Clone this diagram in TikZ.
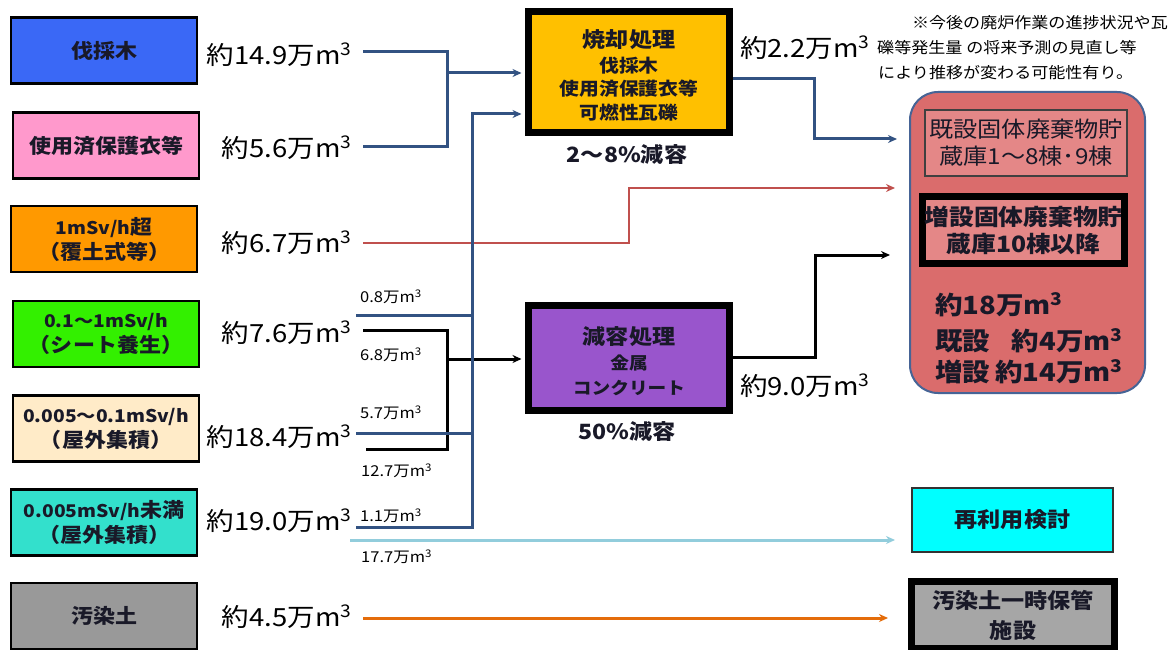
\documentclass[tikz,border=0pt]{standalone}
\usepackage{fontspec}
\setmainfont{Noto Sans CJK JP}[FakeStretch=1.1]
\usetikzlibrary{arrows.meta}
\definecolor{cBlue}{RGB}{58,104,246}
\definecolor{cPink}{RGB}{255,153,204}
\definecolor{cOrange}{RGB}{255,153,0}
\definecolor{cGreen}{RGB}{51,240,0}
\definecolor{cBeige}{RGB}{255,235,200}
\definecolor{cTeal}{RGB}{51,224,204}
\definecolor{cGray}{RGB}{153,153,153}
\definecolor{cGold}{RGB}{255,192,0}
\definecolor{cPurple}{RGB}{153,85,204}
\definecolor{cSalmon}{RGB}{218,108,108}
\definecolor{cSalmonL}{RGB}{228,135,135}
\definecolor{cCyan}{RGB}{0,255,255}
\definecolor{cGrayB}{RGB}{166,166,166}
\definecolor{cLine}{RGB}{50,82,130}
\definecolor{cRed}{RGB}{192,80,77}
\definecolor{cLight}{RGB}{146,205,220}
\definecolor{cOrL}{RGB}{228,108,10}
\definecolor{cEdge}{RGB}{70,100,150}
\definecolor{cText}{RGB}{25,25,40}
\newcommand\fs[2]{\fontsize{#1}{#2}\selectfont}
\newcommand\lat[1]{{\fs{17.5}{25}#1}}
\begin{document}
\begin{tikzpicture}[x=1pt,y=-1pt,
  lbox/.style={draw=black, line width=2.5pt, minimum width=186pt, minimum height=66pt, inner sep=0pt, align=center, text=cText, font=\fs{20}{25}\bfseries},
  val/.style={anchor=east, inner sep=0pt, font=\fs{25}{30}},
  small/.style={anchor=west, inner sep=0pt, font=\fs{15}{18}},
  procbox/.style={draw=black, line width=7pt, minimum width=201pt, inner sep=0pt},
  txt/.style={inner sep=0pt, align=center, text=cText},
  bl/.style={draw=cLine, line width=3pt},
  kl/.style={draw=black, line width=3pt},
  rl/.style={draw=cRed, line width=2.5pt},
  lbl/.style={draw=cLight, line width=3pt},
  ol/.style={draw=cOrL, line width=3pt},
  tip/.style={-{Stealth[length=9pt,width=8pt]}}
]
\useasboundingbox (0,0) rectangle (1170,650);
\fill[white] (0,0) rectangle (1170,650);

% left boxes
\node[lbox, fill=cBlue] (b1) at (104,50.5) {伐採木};
\node[lbox, fill=cPink] (b2) at (106,145.5) {使用済保護衣等};
\node[lbox, fill=cOrange] (b3) at (104,239) {\lat{1mSv/h}超\\（覆土式等）};
\node[lbox, fill=cGreen] (b4) at (106,334) {\lat{0.1～1mSv/h}\\（シート養生）};
\node[lbox, fill=cBeige] (b5) at (106,428.5) {\lat{0.005～0.1mSv/h}\\（屋外集積）};
\node[lbox, fill=cTeal] (b6) at (104,522.5) {\lat{0.005mSv/h}未満\\（屋外集積）};
\node[lbox, fill=cGray] (b7) at (104,616) {汚染土};

% value labels
\node[val] (v1) at (352,55) {約14.9万m\textsuperscript{3}};
\node[val] (v2) at (352,148) {約5.6万m\textsuperscript{3}};
\node[val] (v3) at (352,243) {約6.7万m\textsuperscript{3}};
\node[val] (v4) at (352,333) {約7.6万m\textsuperscript{3}};
\node[val] (v5) at (352,437) {約18.4万m\textsuperscript{3}};
\node[val] (v6) at (352,521) {約19.0万m\textsuperscript{3}};
\node[val] (v7) at (352,617) {約4.5万m\textsuperscript{3}};

% small labels
\node[small] (a1) at (360,297) {0.8万m\textsuperscript{3}};
\node[small] (a2) at (360,355) {6.8万m\textsuperscript{3}};
\node[small] (a3) at (360,413) {5.7万m\textsuperscript{3}};
\node[small] (a4) at (361,471) {12.7万m\textsuperscript{3}};
\node[small] (a5) at (360,516) {1.1万m\textsuperscript{3}};
\node[small] (a6) at (361,557) {17.7万m\textsuperscript{3}};

% process boxes
\node[procbox, fill=cGold, minimum height=121pt] (inc) at (629,72) {};
\node[txt, font=\fs{21}{25}\bfseries] (inc1) at (629,40) {焼却処理};
\node[txt, font=\fs{18}{22}\bfseries] (inc2) at (629,66) {伐採木};
\node[txt, font=\fs{18}{22}\bfseries] (inc3) at (629,89) {使用済保護衣等};
\node[txt, font=\fs{18}{22}\bfseries] (inc4) at (629,113) {可燃性瓦礫};
\node[txt, font=\fs{21}{25}\bfseries] (incR) at (627,155) {2～8\%減容};

\node[procbox, fill=cPurple, minimum height=105pt] (vol) at (629,358) {};
\node[txt, font=\fs{21}{25}\bfseries] (vol1) at (629,337) {減容処理};
\node[txt, font=\fs{17}{21}\bfseries] (vol2) at (629,363) {金属};
\node[txt, font=\fs{17}{21}\bfseries] (vol3) at (629,388) {コンクリート};
\node[txt, font=\fs{21}{25}\bfseries] (volR) at (627,432) {50\%減容};

\node[val, anchor=west] (o1) at (740,48) {約2.2万m\textsuperscript{3}};
\node[val, anchor=west] (o2) at (740,386) {約9.0万m\textsuperscript{3}};

% note
\node[inner sep=0pt, anchor=east, font=\fs{15.5}{18}] (n1) at (1168,23) {※今後の廃炉作業の進捗状況や瓦};
\node[inner sep=0pt, anchor=west, font=\fs{15.5}{18}] (n2) at (877,48) {礫等発生量 の将来予測の見直し等};
\node[inner sep=0pt, anchor=west, font=\fs{15.5}{18}] (n3) at (878,73) {により推移が変わる可能性有り。};

% storage
\node[draw=cEdge, line width=2pt, fill=cSalmon, rounded corners=28pt, minimum width=235pt, minimum height=301pt, inner sep=0pt] (st) at (1027.5,242.5) {};
\node[draw=black!75, line width=1.2pt, fill=cSalmonL, minimum width=202pt, minimum height=66pt, inner sep=0pt, align=center, text=cText, font=\fs{22}{27}] (s1) at (1026,143) {既設固体廃棄物貯\\蔵庫1～8棟･9棟};
\node[draw=black, line width=7pt, fill=cSalmonL, minimum width=202pt, minimum height=67pt, inner sep=0pt, align=center, text=cText, font=\fs{22.5}{27}\bfseries] (s2) at (1023.5,230) {増設固体廃棄物貯\\蔵庫10棟以降};
\node[inner sep=0pt, anchor=west, text=cText, font=\fs{25}{30}\bfseries] (s3) at (935,305) {約18万m\textsuperscript{3}};
\node[inner sep=0pt, anchor=west, text=cText, font=\fs{25}{30}\bfseries] (s4) at (935,341) {既設};
\node[inner sep=0pt, anchor=east, text=cText, font=\fs{25}{30}\bfseries] (s5) at (1123,341) {約4万m\textsuperscript{3}};
\node[inner sep=0pt, anchor=west, text=cText, font=\fs{25}{30}\bfseries] (s6) at (935,372) {増設};
\node[inner sep=0pt, anchor=east, text=cText, font=\fs{25}{30}\bfseries] (s7) at (1123,372) {約14万m\textsuperscript{3}};

% destination boxes
\node[draw=black!80, line width=2pt, fill=cCyan, minimum width=201pt, minimum height=64pt, inner sep=0pt, text=cText, font=\fs{21}{25}\bfseries] (reuse) at (1012.5,520) {再利用検討};
\node[draw=black, line width=7pt, fill=cGrayB, minimum width=203pt, minimum height=67pt, inner sep=0pt, align=center, text=cText, font=\fs{21}{30}\bfseries] (soil) at (1013,615) {汚染土一時保管\\施設};

% connector coordinates
\coordinate (p1) at (363,52);
\coordinate (p2) at (363,147);
\coordinate (jA) at (447,73);
\coordinate (q0) at (472,114);
\coordinate (q1) at (356,315);
\coordinate (q2) at (356,433);
\coordinate (q3) at (356,527);
\coordinate (r1) at (363,330);
\coordinate (r2) at (366,449);
\coordinate (jB) at (447,359);
\coordinate (t1) at (363,243);
\coordinate (tR) at (629,188);
\coordinate (tE) at (895,188);
\coordinate (uB) at (814,79);
\coordinate (uE) at (897,139);
\coordinate (wB) at (815,357);
\coordinate (wE) at (890,255);
\coordinate (lb1) at (350,540);
\coordinate (lb2) at (895,540);
\coordinate (or1) at (363,618);
\coordinate (or2) at (888,618);

% connectors
\draw[rl,tip] (t1) -| (tR) -- (tE);
\draw[kl] (r1) -| (jB) |- (r2);
\draw[kl,tip,shorten >=3.5pt] (jB) -- (jB -| vol.west);
\draw[bl] (p1) -| (jA) |- (p2);
\draw[bl,tip,shorten >=3.5pt] (jA) -- (jA -| inc.west);
\draw[bl] (q1) -- (q1 -| q0);
\draw[bl] (q2) -- (q2 -| q0);
\draw[bl,tip,shorten >=3.5pt] (q3) -| (q0) -- (q0 -| inc.west);
\draw[bl,tip] (uB -| inc.east) -- (uB) |- (uE);
\draw[kl,tip] (wB -| vol.east) -- (wB) |- (wE);
\draw[lbl,tip] (lb1) -- (lb2);
\draw[ol,tip] (or1) -- (or2);
\end{tikzpicture}
\end{document}
